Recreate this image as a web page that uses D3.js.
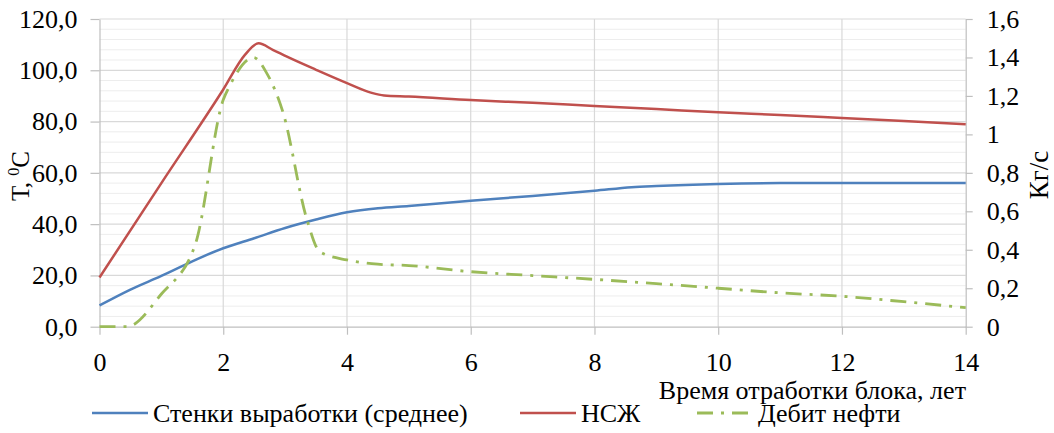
<!DOCTYPE html>
<html>
<head>
<meta charset="utf-8">
<script src="https://cdn.jsdelivr.net/npm/d3@7"></script>
<style>
  body { margin: 0; background: #fff; }
  svg { display: block; }
  .grid-minor { stroke: #ededed; stroke-width: 1; }
  .grid-major { stroke: #d9d9d9; stroke-width: 1.2; }
  .axis path, .axis line { stroke: #bfbfbf; stroke-width: 1.2; }
  .axis text { fill: #000; }
</style>
</head>
<body>
<div id="chart"></div>
<script>
// years of block development
const years = [0, 0.5, 1, 1.5, 2, 2.5, 3, 3.5, 4, 4.5, 5, 6, 7, 8, 8.6, 9, 10, 11, 12, 13, 14];
// wall temperature (average), deg C
const wallTemp = [8.3, 14.5, 19.8, 25.5, 30.6, 34.5, 38.5, 41.8, 44.6, 46.2, 47.1, 49.1, 51, 53, 54.4, 54.9, 55.7, 56, 56, 56, 56];

// НСЖ, deg C
const hotYears = [0, 1, 2, 2.35, 2.57, 2.8, 3.03, 3.5, 4, 4.4, 4.6, 5, 6, 7, 8, 9, 10, 11, 12, 13, 14];
const hotTemp = [19.2, 56, 92.5, 106, 110.5, 108, 105.3, 100.2, 95, 91.2, 90.2, 89.8, 88.4, 87.3, 86.1, 84.9, 83.6, 82.6, 81.4, 80.2, 79];

// oil rate, kg/s (right axis)
const oilYears = [0, 0.44, 1, 1.55, 2, 2.1, 2.49, 2.7, 2.97, 3.35, 3.56, 4, 4.5, 5, 6, 7, 8, 9, 10, 11, 12, 13, 14];
const oilRate = [0, 0, 0.17, 0.43, 1.18, 1.25, 1.40, 1.32, 1.11, 0.56, 0.39, 0.347, 0.325, 0.318, 0.286, 0.266, 0.246, 0.224, 0.2, 0.176, 0.158, 0.13, 0.099];

const xTicks = [0, 2, 4, 6, 8, 10, 12, 14];
const leftTicks = [0, 20, 40, 60, 80, 100, 120];
const leftTickLabels = ["0,0", "20,0", "40,0", "60,0", "80,0", "100,0", "120,0"];
const rightTicks = [0, 0.2, 0.4, 0.6, 0.8, 1, 1.2, 1.4, 1.6];
const rightTickLabels = ["0", "0,2", "0,4", "0,6", "0,8", "1", "1,2", "1,4", "1,6"];

const seriesNames = ["Стенки выработки (среднее)", "НСЖ", "Дебит нефти"];
const colors = ["#4f81bd", "#c0504d", "#9bbb59"];

const width = 1054;
const height = 433;
const font = '"Liberation Serif"';

const svg = d3.select("#chart")
  .append("svg")
  .attr("width", width)
  .attr("height", height)
  .style("font-family", font);

const x = d3.scaleLinear().domain([0, 14]).range([99.5, 965.7]);
const yL = d3.scaleLinear().domain([0, 120]).range([326.7, 19]);
const yR = d3.scaleLinear().domain([0, 1.6]).range([326.7, 19]);

// gridlines
svg.append("g")
  .selectAll("line")
  .data(d3.range(4, 120, 4).filter(v => v % 20 !== 0))
  .join("line")
  .attr("class", "grid-minor")
  .attr("x1", x(0)).attr("x2", x(14))
  .attr("y1", d => yL(d)).attr("y2", d => yL(d));

svg.append("g")
  .selectAll("line")
  .data(leftTicks.slice(1))
  .join("line")
  .attr("class", "grid-major")
  .attr("x1", x(0)).attr("x2", x(14))
  .attr("y1", d => yL(d)).attr("y2", d => yL(d));

svg.append("g")
  .selectAll("line")
  .data(xTicks.slice(1, -1))
  .join("line")
  .attr("class", "grid-major")
  .attr("x1", d => x(d)).attr("x2", d => x(d))
  .attr("y1", yL(0)).attr("y2", yL(120));

// axes
const gx = svg.append("g")
  .attr("class", "axis")
  .attr("transform", `translate(0,${yL(0)})`)
  .call(d3.axisBottom(x).tickValues(xTicks).tickSize(8).tickPadding(18).tickSizeOuter(0).tickFormat(d => d));

const gl = svg.append("g")
  .attr("class", "axis")
  .attr("transform", `translate(${x(0)},0)`)
  .call(d3.axisLeft(yL).tickValues(leftTicks).tickSize(9).tickPadding(13).tickSizeOuter(0)
    .tickFormat((d, i) => leftTickLabels[i]));

const gr = svg.append("g")
  .attr("class", "axis")
  .attr("transform", `translate(${x(14)},0)`)
  .call(d3.axisRight(yR).tickValues(rightTicks).tickSize(7).tickPadding(14).tickSizeOuter(0)
    .tickFormat((d, i) => rightTickLabels[i]));

[gx, gl, gr].forEach(g => g.attr("font-family", null).attr("font-size", null)
  .selectAll("text").style("font-family", font).style("font-size", "26px"));

// lines
const lineL = d3.line().x(d => x(d[0])).y(d => yL(d[1])).curve(d3.curveMonotoneX);
const lineR = d3.line().x(d => x(d[0])).y(d => yR(d[1])).curve(d3.curveMonotoneX);

svg.append("path")
  .datum(years.map((t, i) => [t, wallTemp[i]]))
  .attr("fill", "none")
  .attr("stroke", colors[0])
  .attr("stroke-width", 2.5)
  .attr("d", lineL);

svg.append("path")
  .datum(hotYears.map((t, i) => [t, hotTemp[i]]))
  .attr("fill", "none")
  .attr("stroke", colors[1])
  .attr("stroke-width", 2.5)
  .attr("d", lineL);

svg.append("path")
  .datum(oilYears.map((t, i) => [t, oilRate[i]]))
  .attr("fill", "none")
  .attr("stroke", colors[2])
  .attr("stroke-width", 2.8)
  .attr("stroke-dasharray", "16,8,3,8")
  .attr("d", lineR);

// axis titles
svg.append("text")
  .attr("x", 966)
  .attr("y", 399)
  .attr("text-anchor", "end")
  .style("font-family", font)
  .style("font-size", "26px")
  .text("Время отработки блока, лет");

const yTitle = svg.append("text")
  .attr("transform", "translate(29,176) rotate(-90)")
  .attr("text-anchor", "middle")
  .style("font-family", font)
  .style("font-size", "25px");
yTitle.append("tspan").text("Т, ");
yTitle.append("tspan").style("font-size", "16px").attr("dy", -10).text("0");
yTitle.append("tspan").attr("dy", 10).text("C");

svg.append("text")
  .attr("transform", "translate(1048,175) rotate(-90)")
  .attr("text-anchor", "middle")
  .style("font-family", font)
  .style("font-size", "27px")
  .text("Кг/с");

// legend
const legendX = [92, 520, 697];
const legend = svg.append("g")
  .selectAll("g")
  .data(seriesNames)
  .join("g")
  .attr("transform", (d, i) => `translate(${legendX[i]},413)`);

legend.append("line")
  .attr("x1", 0).attr("x2", 56)
  .attr("stroke", (d, i) => colors[i])
  .attr("stroke-width", (d, i) => i === 2 ? 2.8 : 2.5)
  .attr("stroke-dasharray", (d, i) => i === 2 ? "16,8,3,8" : null);

legend.append("text")
  .attr("x", 61)
  .attr("y", 9)
  .style("font-family", font)
  .style("font-size", "26px")
  .text(d => d);
</script>
</body>
</html>
